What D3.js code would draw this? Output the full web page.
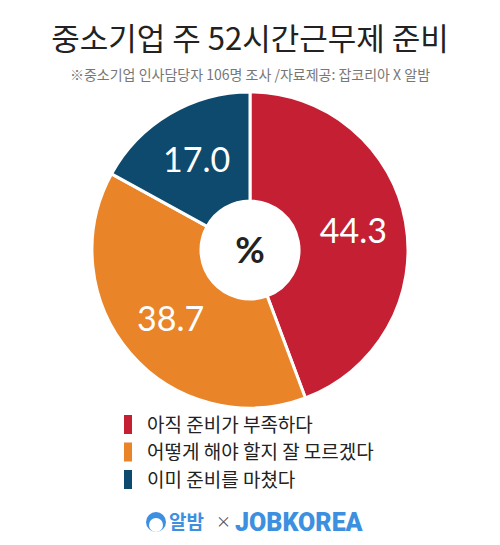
<!DOCTYPE html>
<html><head><meta charset="utf-8">
<script src="https://cdn.jsdelivr.net/npm/d3@7"></script>
<style>body{margin:0;background:#fff}svg{font-family:"Noto Sans CJK KR","Noto Sans",sans-serif}</style>
</head><body><svg id="c" width="500" height="545"></svg>
<script>
// chart data
var labels = ["아직 준비가 부족하다", "어떻게 해야 할지 잘 모르겠다", "이미 준비를 마쳤다"];
var values = [44.3, 38.7, 17.0];
var colors = ["#c41f33", "#ea8428", "#0e4a6d"];

var svg = d3.select("#c");

svg.append("text").attr("x", 250).attr("y", 50).attr("text-anchor", "middle")
  .attr("font-size", 31).attr("fill", "#222").text("중소기업 주 52시간근무제 준비");
svg.append("text").attr("x", 250).attr("y", 80).attr("text-anchor", "middle")
  .attr("font-size", 14).attr("fill", "#777").text("※중소기업 인사담당자 106명 조사 /자료제공: 잡코리아 X 알밤");

var pie = d3.pie().sort(null).value(function(d){ return d; });
var arc = d3.arc().innerRadius(49).outerRadius(158);
var labelArc = d3.arc().innerRadius(105).outerRadius(105);

var g = svg.append("g").attr("transform", "translate(250,250)");
var arcs = pie(values);
g.selectAll("path").data(arcs).enter().append("path")
  .attr("d", arc).attr("fill", function(d, i){ return colors[i]; })
  .attr("stroke", "#fff").attr("stroke-width", 3);
g.selectAll("text.v").data(arcs).enter().append("text")
  .attr("transform", function(d){ return "translate(" + labelArc.centroid(d) + ")"; })
  .attr("text-anchor", "middle").attr("dy", "0.35em")
  .attr("font-family", "Lato, sans-serif").attr("font-size", 34).attr("fill", "#fff")
  .text(function(d){ return d.value.toFixed(1); });
g.append("text").attr("text-anchor", "middle").attr("dy", "0.35em")
  .attr("font-family", "Lato, sans-serif").attr("font-weight", "bold")
  .attr("font-size", 36).attr("fill", "#222").text("%");

// legend
var lg = svg.selectAll("g.lg").data(labels).enter().append("g")
  .attr("transform", function(d, i){ return "translate(124," + (425 + i * 27.5) + ")"; });
lg.append("rect").attr("x", 0).attr("y", -10).attr("width", 8).attr("height", 19)
  .attr("fill", function(d, i){ return colors[i]; });
lg.append("text").attr("x", 23).attr("dy", "0.35em").attr("font-size", 19).attr("fill", "#222")
  .text(function(d){ return d; });

// logos
var lo = svg.append("g").attr("transform", "translate(0,522)");
lo.append("circle").attr("cx", 156).attr("cy", 0).attr("r", 10).attr("fill", "#3d8fe0");
lo.append("circle").attr("cx", 156).attr("cy", 3).attr("r", 7).attr("fill", "#fff");
lo.append("text").attr("x", 169).attr("dy", "0.35em").attr("font-size", 19).attr("font-weight", "bold")
  .attr("fill", "#3d8fe0").text("알밤");
lo.append("text").attr("x", 216).attr("dy", "0.35em").attr("font-size", 15).attr("fill", "#555").text("×");
lo.append("text").attr("x", 235).attr("dy", "0.35em").attr("font-family", "Roboto, sans-serif")
  .attr("font-size", 25).attr("font-weight", "900").attr("fill", "#3d8fe0").text("JOBKOREA");
</script></body></html>
